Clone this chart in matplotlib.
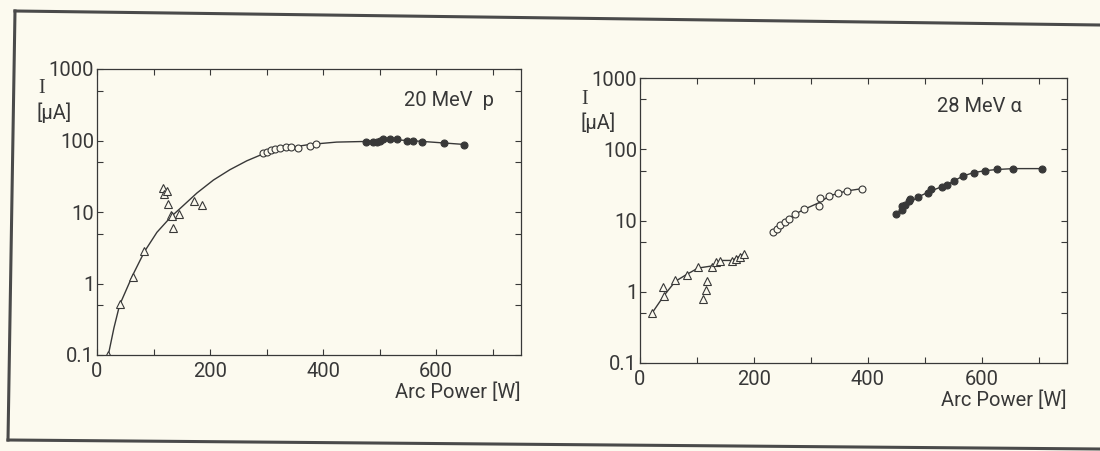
import matplotlib
matplotlib.use("Agg")
import matplotlib.pyplot as plt
from matplotlib.lines import Line2D
from matplotlib.ticker import FixedLocator, FixedFormatter, LogLocator, NullFormatter

# ---- 20 MeV p (left panel) ----
p_tri_x = [20, 40, 63, 84, 116, 119, 123, 126, 131, 133, 135, 145, 172, 186]
p_tri_y = [0.1, 0.52, 1.24, 2.86, 21.6, 18, 19.6, 13, 9.2, 8.8, 6.0, 9.4, 14.1, 12.7]
p_open_x = [294, 300, 307, 315, 324, 334, 344, 356, 377, 388]
p_open_y = [67, 70, 73, 76, 78, 80, 80, 79, 83, 88]
p_fill_x = [476, 489, 495, 500, 506, 519, 530, 549, 559, 575, 614, 650]
p_fill_y = [95, 95, 95, 98, 105, 105, 105, 100, 100, 95, 93, 87]
# hand-drawn fit curve
p_fit_x = [20, 30, 40, 63, 84, 106, 131, 147, 177, 206, 235, 265, 294, 329, 376, 424, 476, 500, 530, 560, 600, 650]
p_fit_y = [0.1, 0.24, 0.5, 1.3, 2.8, 5.2, 8.6, 11.2, 18.5, 28, 39, 52, 65, 77, 88, 95, 97, 100, 102, 99, 94, 88]

# ---- 28 MeV alpha (right panel) ----
a_tri_x = [21, 41, 42, 62, 82, 102, 110, 116, 118, 126, 134, 141, 162, 169, 176, 182]
a_tri_y = [0.5, 1.15, 0.88, 1.45, 1.7, 2.25, 0.8, 1.05, 1.4, 2.25, 2.6, 2.7, 2.7, 2.9, 3.1, 3.4]
a_tri_line_x = [21, 42, 62, 82, 102, 126, 141, 162, 182]
a_tri_line_y = [0.5, 0.88, 1.4, 1.75, 2.15, 2.3, 2.75, 2.75, 3.4]
a_open_x = [233, 240, 246, 254, 261, 272, 288, 315, 317, 332, 347, 363, 390]
a_open_y = [6.8, 7.6, 8.6, 9.5, 10.6, 12.2, 14.3, 16.2, 20.5, 22, 24, 26, 28]
a_open_line_x = [233, 246, 261, 272, 288, 316, 332, 347, 363, 390]
a_open_line_y = [6.8, 8.6, 10.6, 12.2, 14.3, 18, 22, 24, 26, 28]
a_fill_x = [450, 460, 460, 466, 472, 475, 489, 505, 511, 531, 540, 551, 567, 586, 606, 627, 656, 706]
a_fill_y = [12.3, 14, 16, 16.5, 18.5, 20, 21.5, 24.5, 28, 30, 32, 36, 42, 47, 50, 52, 53.5, 53.5]
a_fill_line_x = [450, 466, 489, 511, 540, 567, 586, 606, 627, 656, 706]
a_fill_line_y = [12.3, 16.5, 21.5, 26, 32, 42, 47, 50, 52, 53.5, 53.5]

y_ticks = [0.1, 1, 10, 100, 1000]
y_labels = ["0.1", "1", "10", "100", "1000"]
x_ticks = [0, 100, 200, 300, 400, 500, 600, 700]
x_labels = ["0", "", "200", "", "400", "", "600", ""]

INK = "#383838"
PAPER = "#fcfaef"
W, H = 1100, 451
FS = 14.5

plt.rcParams["font.family"] = ["Roboto", "DejaVu Sans"]
plt.rcParams["font.size"] = FS
plt.rcParams["text.color"] = INK

fig = plt.figure(figsize=(W / 100, H / 100), dpi=100, facecolor=PAPER)


def px(x, y):
    return x / W, 1 - y / H


def make_axes(left, top, right, bottom):
    ax = fig.add_axes([left / W, 1 - bottom / H, (right - left) / W, (bottom - top) / H])
    ax.set_facecolor("none")
    ax.set_yscale("log")
    ax.set_xlim(0, 750)
    ax.set_ylim(0.1, 1000)
    ax.xaxis.set_major_locator(FixedLocator(x_ticks))
    ax.xaxis.set_major_formatter(FixedFormatter(x_labels))
    ax.yaxis.set_major_locator(FixedLocator(y_ticks))
    ax.yaxis.set_major_formatter(FixedFormatter(y_labels))
    ax.yaxis.set_minor_locator(LogLocator(base=10, subs=[5]))
    ax.yaxis.set_minor_formatter(NullFormatter())
    ax.tick_params(which="both", direction="in", top=True, right=True, length=4,
                   width=0.8, color=INK, labelcolor=INK, labelsize=FS)
    ax.tick_params(axis="x", pad=5)
    ax.tick_params(axis="y", pad=2)
    for s in ax.spines.values():
        s.set_color(INK)
        s.set_linewidth(0.9)
    return ax


mk = dict(color=INK, markeredgewidth=0.8, linestyle="none")

# left panel
ax1 = make_axes(97, 69, 521, 355)
ax1.plot(p_fit_x, p_fit_y, color=INK, linewidth=1.0)
ax1.plot(p_tri_x, p_tri_y, marker="^", markersize=5.5, markerfacecolor=PAPER, **mk)
ax1.plot(p_open_x, p_open_y, marker="o", markersize=5, markerfacecolor=PAPER, **mk)
ax1.plot(p_fill_x, p_fill_y, marker="o", markersize=5, markerfacecolor=INK, **mk)
ax1.text(0.935, 0.89, "20 MeV  p", transform=ax1.transAxes, ha="right", va="center")
ax1.text(1.0, -0.13, "Arc Power [W]", transform=ax1.transAxes, ha="right", va="center")

# right panel
ax2 = make_axes(640, 78, 1067, 363)
ax2.plot(a_tri_line_x, a_tri_line_y, color=INK, linewidth=1.0)
ax2.plot(a_open_line_x, a_open_line_y, color=INK, linewidth=1.0)
ax2.plot(a_fill_line_x, a_fill_line_y, color=INK, linewidth=1.0)
ax2.plot(a_tri_x, a_tri_y, marker="^", markersize=5.5, markerfacecolor=PAPER, **mk)
ax2.plot(a_open_x, a_open_y, marker="o", markersize=5, markerfacecolor=PAPER, **mk)
ax2.plot(a_fill_x, a_fill_y, marker="o", markersize=5, markerfacecolor=INK, **mk)
ax2.text(0.895, 0.9, "28 MeV α", transform=ax2.transAxes, ha="right", va="center")
ax2.text(1.0, -0.13, "Arc Power [W]", transform=ax2.transAxes, ha="right", va="center")

# y-axis labels (the "I" has serifs in the original lettering)
for (ix, iy), (ux, uy) in [((42, 89), (37, 113)), ((585, 100), (581, 123))]:
    fig.text(*px(ix, iy), "I", ha="center", va="center",
             family=["Liberation Serif", "DejaVu Serif"])
    fig.text(*px(ux, uy), "[µA]", ha="left", va="center")

# outer frame of the scanned figure
frame = [((15, 11), (1100, 25)), ((15, 11), (8, 440)), ((8, 440), (1100, 449))]
for a, b in frame:
    fig.add_artist(Line2D([a[0] / W, b[0] / W], [1 - a[1] / H, 1 - b[1] / H],
                          transform=fig.transFigure, color="#4a4a4a", linewidth=2.2))

fig.savefig("out.png", dpi=100, facecolor=PAPER)
